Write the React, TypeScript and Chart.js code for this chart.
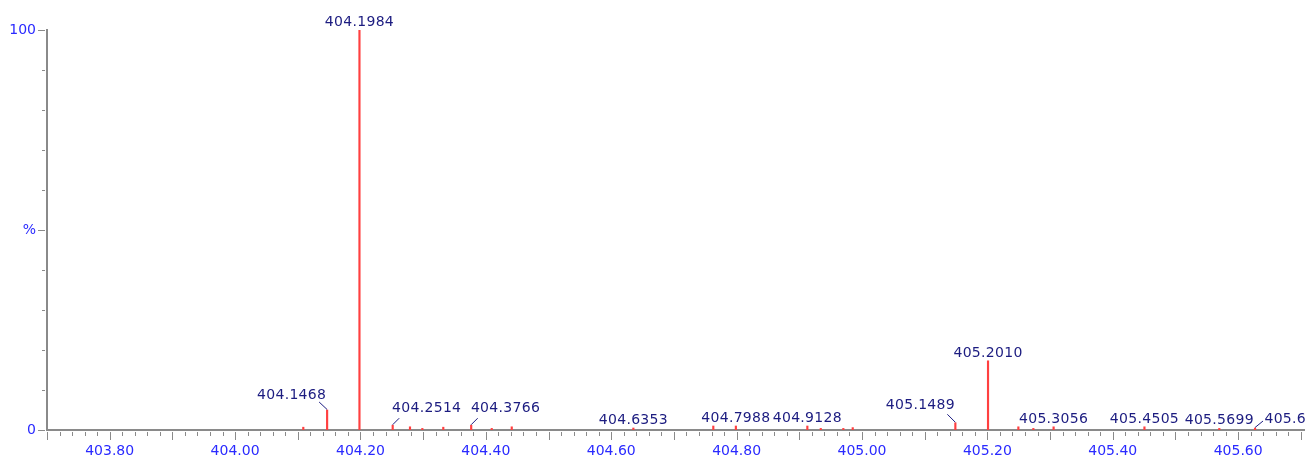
import React, { useEffect, useRef } from "react";
import { Chart, registerables } from "chart.js";

Chart.register(...registerables);

// ---- data ----
const peakMz: number[] = [
  404.1088, 404.1468, 404.1984, 404.2514, 404.279, 404.2987, 404.3321, 404.3766,
  404.4094, 404.4413, 404.6353, 404.7628, 404.7988, 404.9128, 404.9342, 404.9702,
  404.9852, 405.1489, 405.201, 405.2494, 405.2733, 405.3056, 405.4505, 405.5699,
  405.6269,
];
const peakIntensity: number[] = [
  0.7, 5.0, 100, 1.2, 0.8, 0.4, 0.7, 1.2,
  0.4, 0.8, 0.5, 1.0, 1.0, 1.0, 0.4, 0.4,
  0.6, 1.8, 17.3, 0.8, 0.4, 0.8, 0.8, 0.4,
  0.5,
];
const labeledPeaks: number[] = [
  404.1468, 404.1984, 404.2514, 404.3766, 404.6353, 404.7988, 404.9128,
  405.1489, 405.201, 405.3056, 405.4505, 405.5699, 405.6269,
];
const xTickValues: number[] = [403.8, 404.0, 404.2, 404.4, 404.6, 404.8, 405.0, 405.2, 405.4, 405.6];
const xTickLabels: string[] = ["403.80", "404.00", "404.20", "404.40", "404.60", "404.80", "405.00", "405.20", "405.40", "405.60"];
const yTickValues: number[] = [0, 50, 100];
const yTickLabels: string[] = ["0", "%", "100"];

const X_MIN = 403.7;
const X_MAX = 405.705;

// label layout (pixel offsets relative to peak top) for labels with leader lines
const leaderLayout: Record<string, { lx: number; ly: number; tx: number; ty: number }> = {
  "404.1468": { lx: -8, ly: -8, tx: -35.5, ty: -11.5 },
  "404.2514": { lx: 6.5, ly: -7, tx: 34, ty: -13 },
  "404.3766": { lx: 6.5, ly: -7, tx: 34.3, ty: -13 },
  "405.1489": { lx: -8, ly: -8.5, tx: -35, ty: -14 },
  "405.6269": { lx: 8, ly: -7, tx: 44, ty: -5 },
};

const AXIS_GRAY = "#8a8a8a";
const TICK_BLUE = "#2a2aff";
const LABEL_NAVY = "#1c1c80";
const PEAK_RED = "#ff4040";
const FONT = '"DejaVu Sans"';

const tickMarksPlugin = {
  id: "tickMarks",
  afterDraw(chart: any) {
    const ctx = chart.ctx;
    const xs = chart.scales.x;
    const ys = chart.scales.y;
    const area = chart.chartArea;
    ctx.save();
    ctx.strokeStyle = AXIS_GRAY;
    ctx.lineWidth = 1;
    ctx.beginPath();
    for (let k = 0; k <= 100; k++) {
      const v = X_MIN + k * 0.02;
      if (v > X_MAX + 1e-9) break;
      const px = Math.round(xs.getPixelForValue(v)) + 0.5;
      const len = k % 5 === 0 ? 8 : 4;
      ctx.moveTo(px, area.bottom + 2);
      ctx.lineTo(px, area.bottom + 2 + len);
    }
    for (let v = 0; v <= 100; v += 10) {
      const py = Math.round(ys.getPixelForValue(v)) + 0.5;
      const len = v % 50 === 0 ? 7 : 3;
      ctx.moveTo(area.left - 2, py);
      ctx.lineTo(area.left - 2 - len, py);
    }
    ctx.stroke();
    ctx.restore();
  },
};

const peakLabelPlugin = {
  id: "peakLabels",
  afterDatasetsDraw(chart: any) {
    const ctx = chart.ctx;
    const xs = chart.scales.x;
    const ys = chart.scales.y;
    const area = chart.chartArea;
    ctx.save();
    ctx.font = `14px ${FONT}`;
    try {
      (ctx as any).letterSpacing = "0.3px";
    } catch (e) {}
    ctx.fillStyle = LABEL_NAVY;
    ctx.strokeStyle = LABEL_NAVY;
    ctx.lineWidth = 1;
    ctx.textAlign = "center";
    ctx.textBaseline = "alphabetic";
    labeledPeaks.forEach((mz) => {
      const idx = peakMz.indexOf(mz);
      if (idx < 0) return;
      const px = xs.getPixelForValue(mz);
      const top = ys.getPixelForValue(peakIntensity[idx]);
      const text = mz.toFixed(4);
      const lay = leaderLayout[text];
      if (lay) {
        ctx.beginPath();
        ctx.moveTo(px, top - 0.5);
        ctx.lineTo(px + lay.lx, top + lay.ly);
        ctx.stroke();
        ctx.fillText(text, px + lay.tx, top + lay.ty);
      } else {
        const base = Math.min(top - 4, area.bottom - 6.5);
        ctx.fillText(text, px, base);
      }
    });
    ctx.restore();
  },
};

export default function App() {
  const canvasRef = useRef<HTMLCanvasElement | null>(null);

  useEffect(() => {
    if (!canvasRef.current) return;
    const chart = new Chart(canvasRef.current, {
      type: "bar",
      data: {
        datasets: [
          {
            data: peakMz.map((mz, i) => ({ x: mz, y: peakIntensity[i] })),
            backgroundColor: PEAK_RED,
            borderWidth: 0,
            barThickness: 1.5,
          },
        ],
      },
      options: {
        animation: false,
        responsive: false,
        devicePixelRatio: 1,
        layout: { padding: { top: 30, right: 3, left: 0, bottom: 0 } },
        plugins: { legend: { display: false }, tooltip: { enabled: false } },
        scales: {
          x: {
            type: "linear",
            position: "bottom",
            offset: false,
            min: X_MIN,
            max: X_MAX,
            grid: { display: false, drawTicks: false, offset: false },
            border: { display: true, color: AXIS_GRAY, width: 2 },
            afterBuildTicks: (s: any) => {
              s.ticks = xTickValues.map((v) => ({ value: v }));
            },
            afterFit: (s: any) => {
              s.height = 26;
            },
            ticks: {
              autoSkip: false,
              maxRotation: 0,
              minRotation: 0,
              padding: 13,
              color: TICK_BLUE,
              font: { family: FONT, size: 14 },
              callback: (v: any) => {
                const i = xTickValues.findIndex((t) => Math.abs(t - Number(v)) < 1e-6);
                return i >= 0 ? xTickLabels[i] : "";
              },
            },
          },
          y: {
            type: "linear",
            position: "left",
            min: 0,
            max: 100,
            grid: { display: false, drawTicks: false },
            border: { display: true, color: AXIS_GRAY, width: 2 },
            afterBuildTicks: (s: any) => {
              s.ticks = yTickValues.map((v) => ({ value: v }));
            },
            afterFit: (s: any) => {
              s.width = 47;
            },
            ticks: {
              autoSkip: false,
              padding: 11,
              color: TICK_BLUE,
              font: { family: FONT, size: 14 },
              callback: (v: any) => {
                const i = yTickValues.findIndex((t) => Math.abs(t - Number(v)) < 1e-6);
                return i >= 0 ? yTickLabels[i] : "";
              },
            },
          },
        },
      },
      plugins: [tickMarksPlugin, peakLabelPlugin],
    } as any);
    return () => chart.destroy();
  }, []);

  return (
    <div style={{ position: "absolute", left: 0, top: 0, width: 1307, height: 456, background: "#fff" }}>
      <canvas ref={canvasRef} width={1307} height={456} style={{ width: 1307, height: 456, display: "block" }} />
    </div>
  );
}
